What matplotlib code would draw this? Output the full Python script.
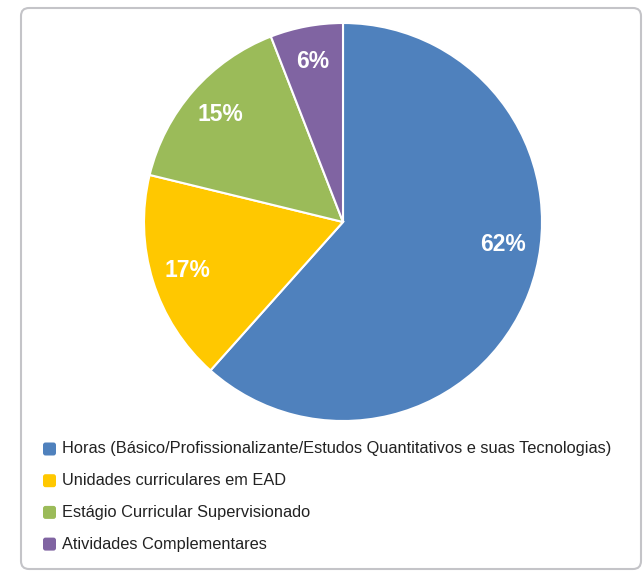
import numpy as np
import matplotlib.pyplot as plt
from matplotlib.patches import FancyBboxPatch

plt.rcParams['font.family'] = ['Liberation Sans', 'DejaVu Sans']

labels = ['Horas (Básico/Profissionalizante/Estudos Quantitativos e suas Tecnologias)',
          'Unidades curriculares em EAD',
          'Estágio Curricular Supervisionado',
          'Atividades Complementares']
values = [61.6, 17.2, 15.3, 5.9]
colors = ['#4f81bd', '#ffc800', '#9bbb59', '#8064a2']

W, H = 643, 571
fig = plt.figure(figsize=(W / 100, H / 100), dpi=100)

# rounded frame around the whole chart (pixel coords)
frame = FancyBboxPatch((21, H - 569), 620, 561, boxstyle='round,pad=0,rounding_size=8',
                       transform=None, facecolor='none', edgecolor='#c4c4c8', lw=1.5,
                       zorder=-1)
fig.patches.append(frame)

cx, cy, r = 343, 222, 199
ax = fig.add_axes([(cx - r) / W, 1 - (cy + r) / H, 2 * r / W, 2 * r / H])
wedges, texts, autotexts = ax.pie(values, colors=colors, startangle=90, counterclock=False,
                                  autopct=lambda p: '%d%%' % round(p), pctdistance=0.82,
                                  wedgeprops=dict(edgecolor='white', linewidth=1.5),
                                  textprops=dict(color='white', fontsize=16.5, fontweight='bold'))
ax.set_xlim(-1, 1)
ax.set_ylim(-1, 1)
ax.set_aspect('equal')
ax.axis('off')

# big slice label sits higher than its mid angle
ang = np.deg2rad(-8)
autotexts[0].set_position((0.81 * np.cos(ang), 0.81 * np.sin(ang)))

# legend
for i, (lab, col) in enumerate(zip(labels, colors)):
    y = 449 + i * 31.7
    box = FancyBboxPatch((43, H - y - 6.5), 13, 13, boxstyle='round,pad=0,rounding_size=2.5',
                         transform=None, facecolor=col, edgecolor='none')
    fig.patches.append(box)
    fig.text(62 / W, 1 - y / H, lab, fontsize=11.8, color='#222222', va='center', ha='left')

fig.savefig('out.png', dpi=100)
